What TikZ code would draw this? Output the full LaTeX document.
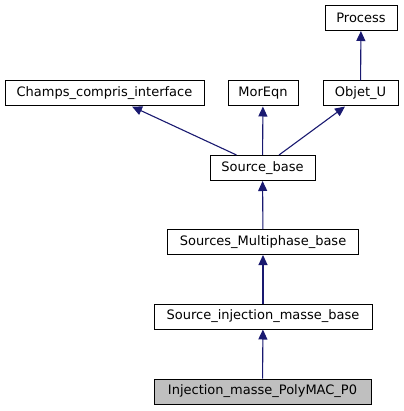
\documentclass[tikz,border=0pt]{standalone}
\usepackage{fontspec}
\setmainfont{DejaVu Sans}
\usetikzlibrary{arrows.meta}
\definecolor{edgeblue}{HTML}{191970}
\definecolor{curgray}{HTML}{BFBFBF}
\begin{document}
\begin{tikzpicture}[x=1pt,y=-1pt]

      \useasboundingbox (0,0) rectangle (403,411);

      \begin{scope}[every node/.style={draw=black, line width=1pt, fill=white,
          minimum height=25pt, inner xsep=2pt, inner ysep=0pt,
          font=\fontsize{13}{15}\selectfont}]
        \node[minimum width=72pt]  (proc) at (361,18)     {Process};
        \node[minimum width=199pt] (cci)  at (104.5,93.5) {Champs\_compris\_interface};
        \node[minimum width=70pt]  (mor)  at (263,93.5)   {MorEqn};
        \node[minimum width=75pt]  (obj)  at (360.5,93.5) {Objet\_U};
        \node[minimum width=105pt] (sb)   at (262.5,168)  {Source\_base};
        \node[minimum width=191pt] (smb)  at (263,242)    {Sources\_Multiphase\_base};
        \node[minimum width=218pt] (simb) at (263,316.5)  {Source\_injection\_masse\_base};
        \node[minimum width=217pt, fill=curgray] (imp) at (262.5,391.5) {Injection\_masse\_PolyMAC\_P0};
      \end{scope}

      \begin{scope}[every edge/.style={draw=edgeblue, line width=1.1pt,
          -{Triangle[length=10pt,width=9pt]}}]
        \path (obj)  edge (proc);
        \path ([xshift=-26pt]sb.north) edge ([xshift=27.5pt]cci.south);
        \path (sb)   edge (mor);
        \path ([xshift=16.5pt]sb.north) edge ([xshift=-15.5pt]obj.south);
        \path (smb)  edge (sb);
        \path (simb) edge (smb);
        \path (imp)  edge (simb);
      \end{scope}

    \end{tikzpicture}
\end{document}
